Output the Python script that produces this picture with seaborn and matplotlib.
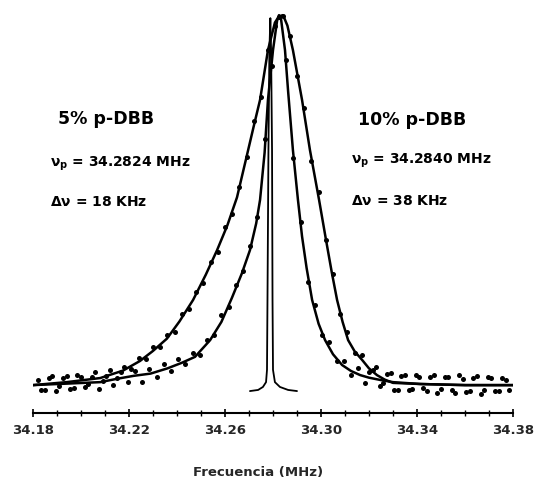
import numpy as np
import pandas as pd
import matplotlib
matplotlib.use("Agg")
import matplotlib.pyplot as plt
import seaborn as sns

# ---------------- data ----------------
# fitted curve, 10% p-DBB (frequency in MHz, intensity in arbitrary units)
fit10_f = [34.1800, 34.1940, 34.2080, 34.2175, 34.2246, 34.2300, 34.2358, 34.2410,
           34.2467, 34.2520, 34.2567, 34.2610, 34.2650, 34.2692, 34.2720, 34.2746,
           34.2779, 34.2808, 34.2825, 34.2842, 34.2860, 34.2883, 34.2921, 34.2954,
           34.2992, 34.3021, 34.3045, 34.3067, 34.3090, 34.3113, 34.3140, 34.3171,
           34.3200, 34.3233, 34.3265, 34.3300, 34.3413, 34.3600, 34.3800]
fit10_v = [0.5, 1.3, 2.4, 4.4, 7.0, 9.7, 13.0, 17.6,
           23.4, 30.2, 36.8, 43.5, 51.0, 62.5, 70.2, 77.2,
           90.6, 98.0, 99.7, 100.0, 97.2, 90.6, 77.2, 63.7,
           50.3, 39.5, 30.8, 23.4, 17.5, 12.6, 9.6, 7.3,
           5.0, 3.2, 2.0, 1.1, 0.8, 0.5, 0.5]

# fitted curve, 5% p-DBB
fit5_f = [34.1800, 34.1940, 34.2080, 34.2150, 34.2220, 34.2290, 34.2360, 34.2420,
          34.2475, 34.2538, 34.2585, 34.2629, 34.2670, 34.2704, 34.2730, 34.2746,
          34.2765, 34.2779, 34.2800, 34.2817, 34.2825, 34.2834, 34.2850, 34.2863,
          34.2883, 34.2904, 34.2921, 34.2940, 34.2963, 34.2990, 34.3017, 34.3050,
          34.3088, 34.3125, 34.3163, 34.3200, 34.3246, 34.3300, 34.3413, 34.3600,
          34.3800]
fit5_v = [0.5, 0.9, 1.3, 2.2, 3.0, 3.6, 5.0, 6.5,
          8.1, 12.6, 17.5, 24.0, 30.5, 36.8, 44.0, 50.3,
          63.0, 77.2, 90.6, 98.5, 100.0, 98.7, 90.6, 79.5,
          63.7, 50.3, 40.5, 32.0, 23.4, 17.0, 12.6, 8.8,
          5.9, 4.3, 3.2, 2.5, 1.9, 1.3, 0.8, 0.5,
          0.5]

# measured points, 10% p-DBB
pts10_f = [34.182, 34.185, 34.188, 34.191, 34.194, 34.197, 34.200, 34.203, 34.206, 34.209,
           34.212, 34.215, 34.218, 34.221, 34.224, 34.227, 34.230, 34.233, 34.236, 34.239,
           34.242, 34.245, 34.248, 34.251, 34.254, 34.257, 34.260, 34.263, 34.266, 34.269,
           34.272, 34.275, 34.278, 34.281, 34.284, 34.287, 34.290, 34.293, 34.296, 34.299,
           34.302, 34.305, 34.308, 34.311, 34.314, 34.317, 34.320, 34.323, 34.326, 34.329,
           34.332, 34.335, 34.338, 34.341, 34.344, 34.347, 34.350, 34.353, 34.356, 34.359,
           34.362, 34.365, 34.368, 34.371, 34.374, 34.377]
pts10_v = [1.8, -0.7, 3.0, 0.3, 2.9, -0.4, 2.7, 0.8, 4.0, 1.5,
           4.5, 2.5, 5.3, 4.7, 7.9, 7.5, 10.7, 10.7, 13.9, 14.9,
           19.5, 20.9, 25.6, 28.0, 33.5, 36.2, 42.9, 46.5, 53.8, 61.8,
           71.4, 77.9, 90.7, 97.2, 99.7, 94.4, 83.7, 75.0, 60.9, 52.4,
           39.5, 30.4, 19.7, 14.7, 9.1, 8.7, 4.1, 5.3, 1.1, 3.7,
           -0.7, 3.2, -0.5, 2.8, -1.2, 3.2, -0.5, 2.7, -1.5, 2.2,
           -1.2, 2.9, -0.9, 2.4, -1.2, 2.0]

# measured points, 5% p-DBB
pts5_f = [34.1835, 34.1865, 34.1895, 34.1925, 34.1955, 34.1985, 34.2015, 34.2045, 34.2075, 34.2105,
          34.2135, 34.2165, 34.2195, 34.2225, 34.2255, 34.2285, 34.2315, 34.2345, 34.2375, 34.2405,
          34.2435, 34.2465, 34.2495, 34.2525, 34.2555, 34.2585, 34.2615, 34.2645, 34.2675, 34.2705,
          34.2735, 34.2765, 34.2795, 34.2825, 34.2855, 34.2885, 34.2915, 34.2945, 34.2975, 34.3005,
          34.3035, 34.3065, 34.3095, 34.3125, 34.3155, 34.3185, 34.3215, 34.3245, 34.3275, 34.3305,
          34.3335, 34.3365, 34.3395, 34.3425, 34.3455, 34.3485, 34.3515, 34.3545, 34.3575, 34.3605,
          34.3635, 34.3665, 34.3695, 34.3725, 34.3755, 34.3785]
pts5_v = [-0.7, 2.5, -1.2, 2.3, -0.6, 3.3, 0.1, 2.8, -0.5, 2.9,
          0.6, 4.0, 1.3, 4.3, 1.3, 4.7, 2.8, 6.1, 4.4, 7.4,
          6.1, 9.1, 8.5, 12.6, 14.0, 19.4, 21.5, 27.5, 31.1, 37.8,
          45.6, 66.8, 86.3, 99.6, 88.0, 61.6, 44.5, 28.3, 22.0, 14.1,
          12.0, 7.1, 7.0, 3.3, 5.2, 1.0, 4.5, 0.3, 3.6, -0.9,
          2.9, -0.9, 3.3, -0.4, 2.6, -1.6, 2.8, -0.8, 3.1, -1.4,
          2.3, -1.8, 2.7, -1.1, 2.4, -0.8]

# very narrow reference line
ref_f = [34.2704, 34.2738, 34.2758, 34.2771, 34.2775, 34.2777, 34.2781, 34.2785, 34.2789,
         34.2792, 34.2796, 34.2798, 34.2800, 34.2808, 34.2829, 34.2863, 34.2900]
ref_v = [-1.1, -0.8, 0.0, 1.3, 4.6, 23.4, 63.7, 90.6, 99.2,
         90.6, 63.7, 23.4, 4.6, 1.3, 0.0, -0.8, -1.1]

xticks = [34.18, 34.22, 34.26, 34.30, 34.34, 34.38]
xticklabels = ["34.18", "34.22", "34.26", "34.30", "34.34", "34.38"]

# ---------------- figure ----------------
sns.set_theme(style="white")
plt.rcParams["font.family"] = ["DejaVu Sans"]
plt.rcParams["mathtext.fontset"] = "dejavusans"

W, H = 536, 478
fig = plt.figure(figsize=(W / 100, H / 100), dpi=100)
fig.patch.set_facecolor("white")
ax = fig.add_axes([33 / W, (H - 413) / H, 480 / W, (413 - 4) / H])
ax.set_facecolor("white")

fit10 = pd.DataFrame({"f": fit10_f, "v": fit10_v})
fit5 = pd.DataFrame({"f": fit5_f, "v": fit5_v})
pts10 = pd.DataFrame({"f": pts10_f, "v": pts10_v})
pts5 = pd.DataFrame({"f": pts5_f, "v": pts5_v})
ref = pd.DataFrame({"f": ref_f, "v": ref_v})

sns.lineplot(data=fit10, x="f", y="v", ax=ax, color="black", linewidth=1.8)
sns.lineplot(data=fit5, x="f", y="v", ax=ax, color="black", linewidth=1.8)
sns.lineplot(data=ref, x="f", y="v", ax=ax, color="black", linewidth=1.3)
sns.scatterplot(data=pts10, x="f", y="v", ax=ax, color="black", s=13, linewidth=0)
sns.scatterplot(data=pts5, x="f", y="v", ax=ax, color="black", s=13, linewidth=0)

ax.set_xlim(34.18, 34.38)
ax.set_ylim(-7.0, 103.0)

for s in ["top", "right", "left"]:
    ax.spines[s].set_visible(False)
ax.spines["bottom"].set_linewidth(1.5)
ax.spines["bottom"].set_color("black")

ax.set_yticks([])
ax.set_ylabel("")
ax.set_xticks(xticks)
ax.set_xticklabels(xticklabels, fontsize=9.5, fontweight="bold")
ax.set_xticks(np.round(np.arange(34.18, 34.3801, 0.01), 2), minor=True)
ax.tick_params(axis="x", which="major", direction="inout", length=6, width=1.2,
               color="black", pad=5, bottom=True)
ax.tick_params(axis="x", which="minor", direction="inout", length=4, width=1.0,
               color="black", bottom=True)

ax.set_xlabel("Frecuencia (MHz)", fontsize=9.5, fontweight="bold")
ax.xaxis.set_label_coords((258 - 33) / 480, (413 - 466) / 409)

def ftxt(x, y, s, size):
    fig.text(x / W, 1 - y / H, s, fontsize=size, fontweight="bold",
             ha="left", va="center", color="black")

ftxt(58, 119, "5% p-DBB", 12.5)
ftxt(50, 164, r"$\mathbf{\nu_p}$ = 34.2824 MHz", 10)
ftxt(50, 202, r"$\mathbf{\Delta\nu}$ = 18 KHz", 10)
ftxt(358, 120, "10% p-DBB", 12.5)
ftxt(351, 161, r"$\mathbf{\nu_p}$ = 34.2840 MHz", 10)
ftxt(351, 201, r"$\mathbf{\Delta\nu}$ = 38 KHz", 10)

fig.savefig("out.png", dpi=100, facecolor="white")
